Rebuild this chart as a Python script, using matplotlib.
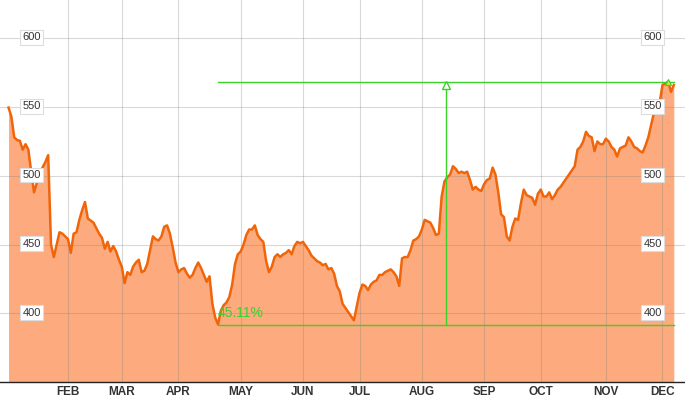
import matplotlib
matplotlib.use("Agg")
import matplotlib.pyplot as plt
import matplotlib.transforms as mtransforms

plt.rcParams['font.family'] = ['Liberation Sans', 'DejaVu Sans']

# daily closes, one per trading day from the first session of the year
prices = [
    549.6, 543, 528, 526, 525.5, 519, 523, 519, 503, 488,
    495, 501, 506, 510, 515, 450, 441, 450, 459, 458,
    456, 454, 444, 458, 459, 468, 475, 481, 469, 467.5,
    466, 462, 458, 455, 447, 452, 445, 449, 445, 439,
    434, 422, 430, 428, 434, 437, 439, 430, 431, 436,
    446, 456, 454, 453, 456, 463, 464, 458, 448, 437,
    430, 432, 433, 429, 426, 428, 433, 437, 433, 428,
    423, 427, 407, 397, 392, 402, 406, 408, 412, 421,
    436, 443, 445, 450, 457, 461, 461, 464, 457, 454,
    452, 438, 430, 434, 441, 443, 441, 443, 444, 446,
    443, 449, 452, 451, 452, 449, 446, 442, 440, 438,
    437, 435, 436, 432, 433, 429, 420, 416, 407, 404,
    401, 398, 395, 405, 415, 421, 420, 417, 421, 423,
    424, 428, 428, 430, 431, 432, 430, 427, 420, 440,
    441, 441, 446, 453, 454, 456, 461, 468, 467, 466,
    462, 457, 458, 485, 496, 499, 501, 507, 505, 502,
    503, 502, 503, 497, 490, 492, 490, 489, 494, 497,
    498, 506, 501, 488, 472, 470, 456, 453, 463, 469,
    468, 480, 490, 486, 485, 484, 479, 487, 490, 485,
    485, 488, 483, 486, 490, 492, 495, 498, 501, 504,
    507, 519, 521, 525, 532, 529, 528, 518, 525, 523,
    523, 527, 525, 521, 519, 514, 520, 521, 522, 528,
    525, 521, 520, 518, 517, 522, 528, 537, 546, 551,
    553, 566, 567, 568.5, 561, 566,
]
days = list(range(len(prices)))

# first trading day of each month (index into prices)
month_starts = [21, 40, 60, 82, 104, 124, 146, 168, 188, 211, 231]
month_labels = ['FEB', 'MAR', 'APR', 'MAY', 'JUN', 'JUL', 'AUG', 'SEP', 'OCT', 'NOV', 'DEC']
y_ticks = [400, 450, 500, 550, 600]

# low -> high measurement
low_day, low_val = 74, 391.6
high_val = 568.0
mark_day = 154.5
peak_day, peak_val = 233, 568.5
gain_label = '45.11%'

green = '#3ad12a'

fig = plt.figure(figsize=(6.85, 3.99), dpi=100)
ax = fig.add_axes([0, 0.042, 1, 0.958])

ax.fill_between(days, prices, 300, color='#fdab7e', lw=0, zorder=1)
ax.plot(days, prices, color='#f0650a', lw=1.8, zorder=3, solid_joinstyle='round')

ax.set_xlim(-3.02, 238.96)
ax.set_ylim(350, 627.8)

ax.set_xticks(month_starts)
ax.set_xticklabels(month_labels, fontsize=8.5, fontweight='bold', color='#333333')
ax.set_yticks(y_ticks)
ax.set_yticklabels([])
ax.tick_params(length=0, pad=3)
ax.grid(True, color='#808080', alpha=0.3, lw=0.8, zorder=2)
ax.set_axisbelow(False)
for s in ['left', 'right', 'top']:
    ax.spines[s].set_visible(False)
ax.spines['bottom'].set_color('#222222')
ax.spines['bottom'].set_linewidth(1)
ax.spines['bottom'].set_zorder(5)

trans = mtransforms.blended_transform_factory(ax.transAxes, ax.transData)
for v in y_ticks:
    for xf in (0.0463, 0.9526):
        ax.text(xf, v + 0.6, str(v), transform=trans, ha='center', va='center',
                fontsize=8, color='#333333', zorder=6,
                bbox=dict(boxstyle='square,pad=0.22', fc='white', ec='#dddddd', lw=0.8))

# green measurement lines
last = days[-1]
ax.plot([low_day, last], [high_val, high_val], color=green, lw=1, zorder=4)
ax.plot([low_day, last], [low_val, low_val], color=green, lw=1, zorder=4)
ax.plot([mark_day, mark_day], [low_val, high_val], color=green, lw=1, zorder=4)
ax.plot([mark_day], [high_val - 2.2], marker='^', ms=6, mfc='white', mec=green, mew=1, zorder=5)
ax.plot([peak_day], [peak_val], marker='^', ms=4, mfc='#c8e64a', mec=green, mew=0.8, zorder=5)
ax.text(low_day, 400.5, gain_label, color=green, fontsize=10, ha='left', va='center', zorder=6)

fig.savefig('out.png', dpi=100)
